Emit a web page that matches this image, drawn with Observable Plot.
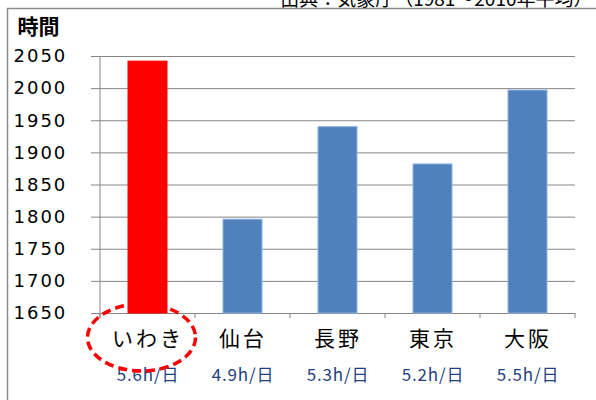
<!DOCTYPE html>
<html>
<head>
<meta charset="utf-8">
<script src="https://cdn.jsdelivr.net/npm/d3@7"></script>
<script src="https://cdn.jsdelivr.net/npm/@observablehq/plot@0.6"></script>
<style>
  html, body { margin: 0; padding: 0; background: #fff; }
  #chart { width: 596px; height: 400px; overflow: hidden; }
</style>
</head>
<body>
<div id="chart"></div>
<script>
// ---- data ----
const cities = ["いわき", "仙台", "長野", "東京", "大阪"];
const hours = [2042, 1796, 1940, 1882, 1997];
const perDay = ["5.6h/日", "4.9h/日", "5.3h/日", "5.2h/日", "5.5h/日"];
const highlight = "いわき";
const yTicks = [1650, 1700, 1750, 1800, 1850, 1900, 1950, 2000, 2050];
const yTitle = "時間";
const sourceText = "出典：気象庁（1981～2010年平均）";

const data = cities.map((c, i) => ({city: c, hours: hours[i], perDay: perDay[i]}));
const yMin = yTicks[0], yMax = yTicks[yTicks.length - 1];

const JP = "'Noto Sans CJK JP', 'Noto Sans', sans-serif";
const gridColor = "#868686";

const plot = Plot.plot({
  width: 596,
  height: 400,
  marginLeft: 100,
  marginRight: 21,
  marginTop: 56,
  marginBottom: 87,
  style: {fontFamily: "'DejaVu Sans', sans-serif", background: "white", color: "black"},
  x: {domain: cities, paddingInner: 0.59, paddingOuter: 0.295, axis: null},
  y: {domain: [yMin, yMax], axis: null},
  marks: [
    Plot.gridY(yTicks, {stroke: gridColor, strokeOpacity: 1, strokeWidth: 1}),
    Plot.axisY({
      ticks: yTicks, tickSize: 9, tickPadding: 78, textAnchor: "start",
      fontSize: 18, stroke: gridColor, strokeOpacity: 1, fill: "black",
      tickFormat: d => String(d), label: null
    }),
    Plot.barY(data, {
      x: "city", y1: () => yMin, y2: "hours",
      fill: d => d.city === highlight ? "#FF0000" : "#4F81BD",
      stroke: d => d.city === highlight ? "#FF0000" : "#8DB3E2",
      strokeWidth: 1
    }),
    Plot.text(data, {
      x: "city", text: "city", frameAnchor: "bottom", dy: 26,
      fontSize: 21, fontFamily: JP, fill: "black", lineAnchor: "middle",
      className: "catlabel"
    }),
    Plot.text(data, {
      x: "city", text: "perDay", frameAnchor: "bottom", dy: 62,
      fontSize: 17, fontFamily: JP, fill: "#1F3F7F", lineAnchor: "middle",
      className: "sublabel"
    }),
    Plot.text([yTitle], {
      frameAnchor: "top-left", dx: -83, dy: -29, textAnchor: "start",
      lineAnchor: "middle", fontSize: 21, fontWeight: "bold", fontFamily: JP, fill: "black"
    }),
    Plot.text([sourceText], {
      frameAnchor: "top-right", dx: 17, dy: -51, textAnchor: "end",
      lineAnchor: "bottom", fontSize: 19, fontFamily: JP, fill: "black"
    })
  ]
});

// post-processing: axes lines, category ticks, frame, highlight ellipse
const svg = d3.select(plot);
const xs = plot.scale("x");
const ys = plot.scale("y");
const step = xs.step, bw = xs.bandwidth;
const x0 = xs.apply(cities[0]) - (step - bw) / 2;
const y0 = ys.apply(yMin), yTop = ys.apply(yMax);

// letter spacing to mimic the wide original fonts
svg.selectAll("g[aria-label='y-axis tick label']").attr("letter-spacing", "2px");
svg.selectAll("g.catlabel").attr("letter-spacing", "3px");
svg.selectAll("g.sublabel").attr("letter-spacing", "0.8px");

const g = svg.append("g");
// vertical y axis line
g.append("line").attr("x1", x0).attr("x2", x0).attr("y1", yTop).attr("y2", y0 + 5)
  .attr("stroke", gridColor);
// category boundary ticks
for (let i = 0; i <= cities.length; i++) {
  const xx = x0 + i * step;
  g.append("line").attr("x1", xx).attr("x2", xx).attr("y1", y0).attr("y2", y0 + 5)
    .attr("stroke", gridColor);
}
// outer frame
g.append("rect").attr("x", 7.5).attr("y", 8.5).attr("width", 640).attr("height", 440)
  .attr("fill", "none").attr("stroke", "#8C8C8C").attr("stroke-width", 1.5);
// dashed ellipse around highlight label
const hx = xs.apply(highlight) + bw / 2 - 6;
g.append("ellipse").attr("cx", hx).attr("cy", y0 + 24.5).attr("rx", 54).attr("ry", 33.5)
  .attr("fill", "none").attr("stroke", "#FF0000").attr("stroke-width", 3.5)
  .attr("stroke-dasharray", "9,5");

document.getElementById("chart").appendChild(plot);
</script>
</body>
</html>
